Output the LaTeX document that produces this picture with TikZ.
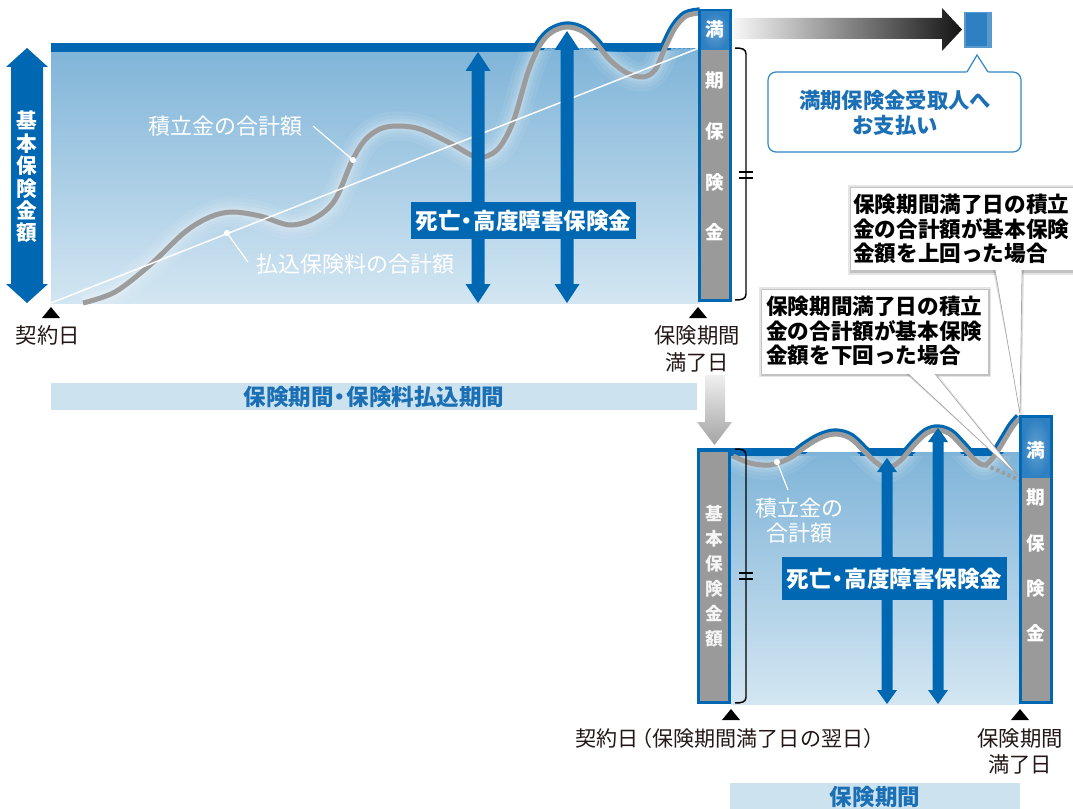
\documentclass[tikz,border=0pt]{standalone}
\usepackage{fontspec}
\setmainfont{Noto Sans CJK JP}
\usetikzlibrary{calc}
\definecolor{dblue}{HTML}{0068B2}
\definecolor{gtop}{HTML}{7FB4D8}
\definecolor{gbot}{HTML}{D3E6F2}
\definecolor{cgray}{HTML}{9C9C9C}
\definecolor{bgray}{HTML}{9A9A9A}
\definecolor{mblue}{HTML}{2F80C2}
\definecolor{lband}{HTML}{CDE2EF}
\definecolor{tblue}{HTML}{1B6FB5}
\definecolor{cblue}{HTML}{2F87C6}
\definecolor{ink}{HTML}{231815}
\newcommand\myfs[2]{\fontsize{#1}{#2}\selectfont}
\newcommand\ndot{\hspace{-0.22em}・\hspace{-0.22em}}
\newcommand\topcurve{plot[smooth,tension=0.55] coordinates {(83,303) (115,292) (150,265) (185,232) (210,217) (232,212) (260,216) (290,225) (315,218) (335,200) (352,161) (365,140) (380,129) (397,126) (420,129) (450,143) (477,157) (497,150) (513,122) (528,72) (540,45) (552,32) (567,27) (582,31) (595,42) (610,60) (627,73) (643,77) (655,70) (665,48) (675,28) (686,16) (700,13)}}
\newcommand\botcurve{plot[smooth,tension=0.55] coordinates {(733,456) (750,463) (770,465) (790,458) (805,447) (820,438) (835,434) (850,438) (865,452) (878,464) (888,468) (900,461) (915,444) (927,433) (938,430) (950,434) (962,446) (975,460) (985,465) (995,455) (1005,439) (1013,426) (1020,418)}}
\newcommand\mydblarrow[6]{%
 \fill[dblue] (#1,#2) -- ({#1+#4},{#2+#6}) -- ({#1+#5},{#2+#6}) -- ({#1+#5},{#3-#6}) -- ({#1+#4},{#3-#6}) -- (#1,#3) -- ({#1-#4},{#3-#6}) -- ({#1-#5},{#3-#6}) -- ({#1-#5},{#2+#6}) -- ({#1-#4},{#2+#6}) -- cycle;}
\newcommand\mybracket[3]{%
 \draw[black, line width=1.1pt] (735,#1) .. controls (742,#1) and (746,{#1+1}) .. (746,{#1+6}) -- (746,{#2-6}) .. controls (746,{#2-1}) and (742,#2) .. (735,#2);
 \draw[black, line width=1.1pt] (739,{#3-3}) -- (753,{#3-3}) (739,{#3+3}) -- (753,{#3+3});}
\newcommand\softglow[1]{%
 \draw[white, opacity=0.07, line width=22pt] #1;
 \draw[white, opacity=0.08, line width=16pt] #1;
 \draw[white, opacity=0.10, line width=11pt] #1;
 \draw[white, opacity=0.14, line width=7pt] #1;}
\begin{document}
\begin{tikzpicture}[x=0.75pt,y=-0.75pt,
  lbl/.style={font=\myfs{16}{19.5}, text=ink, inner sep=0pt, align=center},
  wlbl/.style={font=\myfs{16.5}{18.8}, text=white, inner sep=0pt, align=center},
  bandtxt/.style={font=\bfseries\myfs{16.9}{18}, text=tblue, inner sep=0pt},
  deathlbl/.style={fill=dblue, text=white, font=\bfseries\myfs{16.9}{18}, inner sep=0pt},
  callt/.style={font=\bfseries\myfs{16.2}{18.4}, align=left, inner sep=0pt, text=black},
  boxch/.style={text=white, inner sep=0pt, align=center},
  curveg/.style={cgray, line width=3.75pt},
  tri/.style={fill=black}]
\useasboundingbox (0,0) rectangle (1073,809);
\fill[white] (0,0) rectangle (1073,809);

%% ================= TOP PANEL =================
\shade[top color=gtop, bottom color=gbot] (51,48) rectangle (700,303);
\fill[dblue] (51,43) rectangle (538,52);
\fill[dblue] (602,43) rectangle (664,52);
\draw[dblue!70, line width=0.5pt, dash pattern=on 2pt off 1.5pt] (538,48) -- (602,48) (664,48) -- (700,48);
\begin{scope}
 \clip (51,52) rectangle (700,303);
 \softglow{\topcurve}
\end{scope}
\begin{scope}
 \clip (520,0) rectangle (700,50);
 \draw[dblue, line width=8.5pt] \topcurve;
\end{scope}
\begin{scope}
 \clip (520,0) rectangle (700,48);
 \fill[white] \topcurve -- (700,303) -- (83,303) -- cycle;
\end{scope}
\draw[curveg] \topcurve;
\draw[white, line width=1.1pt] (51,303) -- (699,48);

\mydblarrow{478}{52}{303}{12.5}{6.5}{19}
\mydblarrow{567}{31}{303}{12.5}{6.5}{19}
\node[deathlbl, minimum width=168.75pt, minimum height=27.75pt] (deathA) at (523.5,220.5) {死亡\ndot 高度障害保険金};

% labels on the chart
\node[wlbl, anchor=west] (tsumiA) at (148,126) {積立金の合計額};
\draw[white, line width=0.9pt] (313,126) -- (353,160);
\fill[white] (353,160) circle (2.3pt);
\node[wlbl, anchor=west] (harai) at (256,264) {払込保険料の合計額};
\draw[white, line width=0.9pt] (227,233) -- (248,262);
\fill[white] (227,233) circle (2.3pt);

% left double arrow
\mydblarrow{27}{48}{303}{21}{16}{19}
\node[boxch, font=\bfseries\myfs{15.5}{16.8}] (kihonA) at (26.5,177) {基\\本\\保\\険\\金\\額};

% maturity box top
\fill[dblue] (698,9) rectangle (732,302);
\fill[bgray] (701,50) rectangle (729,299);
\shade[inner color=mblue!75!white, outer color=mblue] (701,12) rectangle (729,50);
\node[boxch, font=\bfseries\myfs{14}{16}] (manA) at (715,29) {満};
\node[boxch, font=\bfseries\myfs{14}{38}] (kiA) at (715,156.5) {期\\保\\険\\金};
\mybracket{48}{300}{175}

% gradient arrow to recipient
\shade[left color=gray!6, right color=black!92] (733,18) -- (942,18) -- (942,8) -- (962,29.5) -- (942,51) -- (942,39) -- (733,39) -- cycle;
\fill[mblue!80!white] (964,12) rectangle (992,48);
\fill[mblue] (965.5,13.5) rectangle (987,46);

% recipient callout
\draw[cblue, line width=0.9pt, fill=white, rounded corners=6pt] (768,72) rectangle (1021,152);
\fill[white] (966,73.5) -- (977,55) -- (989,73.5) -- cycle;
\draw[cblue, line width=0.9pt] (967,72) -- (977,55) -- (988,72);
\node[font=\bfseries\myfs{16}{18.7}, text=tblue, align=center, inner sep=0pt] (pay) at (895,112.5) {満期保険金受取人へ\\お支払い};

% baseline markers
\fill[tri] (51,307) -- (60,318) -- (42,318) -- cycle;
\fill[tri] (698,307) -- (707,318) -- (689,318) -- cycle;
\node[lbl] (startA) at (48,335) {契約日};
\node[lbl, font=\myfs{16}{20.3}] (endA) at (697,348.5) {保険期間\\満了日};
\fill[lband] (51,383) rectangle (697,410);
\node[bandtxt] (periodA) at (374,396.5) {保険期間\ndot 保険料払込期間};

% arrow between panels
\shade[top color=gray!12, bottom color=gray!72] (705,375) -- (725,375) -- (725,422) -- (732,422) -- (714.5,445) -- (697,422) -- (705,422) -- cycle;

%% ================= BOTTOM PANEL =================
\shade[top color=gtop, bottom color=gbot] (731,451) rectangle (1019,704);
\fill[dblue] (731,448) rectangle (798,456);
\fill[dblue] (860,448) rectangle (913,456);
\fill[dblue] (964,448) rectangle (996,456);
\draw[dblue!70, line width=0.5pt, dash pattern=on 2pt off 1.5pt] (798,451) -- (860,451) (913,451) -- (964,451) (996,451) -- (1019,451);
\begin{scope}
 \clip (731,456) rectangle (1019,704);
 \softglow{\botcurve}
\end{scope}
\begin{scope}
 \clip (785,0) rectangle (1020,453);
 \draw[dblue, line width=8.5pt] \botcurve;
\end{scope}
\begin{scope}
 \clip (785,0) rectangle (1019,451);
 \fill[white] \botcurve -- (1020,704) -- (733,704) -- cycle;
\end{scope}
\draw[curveg] \botcurve;
\draw[cgray, line width=3pt, dash pattern=on 2.4pt off 2.2pt] (985,465) .. controls (998,470) and (1008,475) .. (1019,480);

\mydblarrow{887}{458}{704}{10}{5.5}{14}
\mydblarrow{938}{428}{704}{10}{5.5}{14}
\node[deathlbl, minimum width=168.75pt, minimum height=32.25pt] (deathB) at (894.5,578.5) {死亡\ndot 高度障害保険金};

\node[wlbl, font=\myfs{16.5}{18.8}] (tsumiB) at (799,520.5) {積立金の\\合計額};
\draw[white, line width=0.9pt] (777,462) -- (788,490);
\fill[white] (777,462) circle (2.3pt);

% left box bottom
\fill[dblue] (697,448) rectangle (731,704);
\fill[bgray] (700,452) rectangle (728,701);
\node[boxch, font=\bfseries\myfs{13.3}{18.75}, text=white!92!gray] (kihonB) at (714,576) {基\\本\\保\\険\\金\\額};
\mybracket{449}{703}{576}

% right box bottom
\fill[dblue] (1019,415) rectangle (1053,704);
\fill[bgray] (1022,477) rectangle (1050,701);
\shade[inner color=mblue!75!white, outer color=mblue] (1022,418) rectangle (1050,477);
\node[boxch, font=\bfseries\myfs{14}{16}] (manB) at (1036,450) {満};
\node[boxch, font=\bfseries\myfs{14}{34}] (kiB) at (1036,565.5) {期\\保\\険\\金};

\fill[tri] (731,709) -- (740,720) -- (722,720) -- cycle;
\fill[tri] (1020,709) -- (1029,720) -- (1011,720) -- cycle;
\node[lbl, font=\myfs{15.8}{18}] (startB) at (730,738) {契約日\hspace{-0.35em}（保険期間満了日の翌日）};
\node[lbl, font=\myfs{16}{19.5}] (endB) at (1020,751) {保険期間\\満了日};
\fill[lband] (730,783) rectangle (1020,809);
\node[bandtxt] (periodB) at (875,797.5) {保険期間};

%% ================= CALLOUTS =================
% upper callout (above basic amount)
\fill[black, opacity=0.10] (848,185) rectangle (1085,275);
\fill[black, opacity=0.15] (850,187) rectangle (1083,272.5);
\fill[black, opacity=0.12] (993,270) -- (1024,270) -- (1021.5,416) -- cycle;
\fill[white] (851,188) rectangle (1080,270);
\fill[white] (995,269) -- (1022,269) -- (1020,414) -- cycle;
\draw[gray!70, line width=0.5pt] (995,270) -- (1020,414) -- (1022,270);
\node[callt, anchor=west] (upper) at (853,229) {保険期間満了日の積立\\金の合計額が基本保険\\金額を上回った場合};

% lower callout (below basic amount)
\fill[black, opacity=0.10] (759,287) rectangle (991,377);
\fill[black, opacity=0.15] (761,289) rectangle (989.5,375.5);
\fill[black, opacity=0.12] (906,374) -- (937,374) -- (1021,478.5) -- cycle;
\fill[white] (762,290) rectangle (988,374);
\fill[white] (908,373) -- (935,373) -- (1019,477) -- cycle;
\draw[gray!70, line width=0.5pt] (908,374) -- (1019,477) -- (935,374);
\node[callt, anchor=west] (lower) at (766,331) {保険期間満了日の積立\\金の合計額が基本保険\\金額を下回った場合};
\end{tikzpicture}
\end{document}
